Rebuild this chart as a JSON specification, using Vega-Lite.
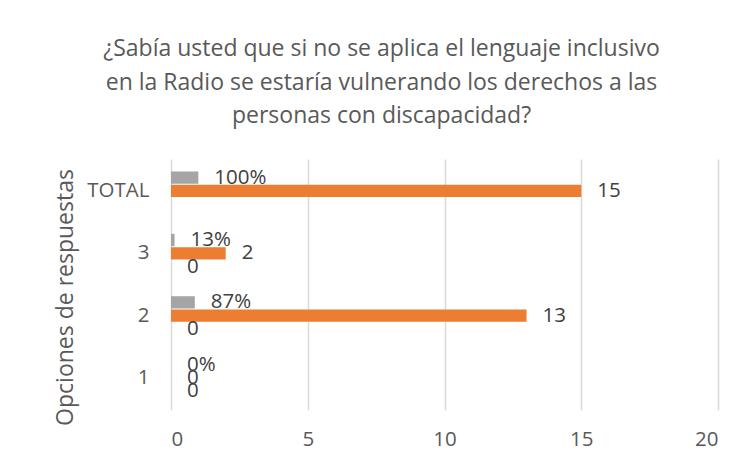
{
  "$schema": "https://vega.github.io/schema/vega-lite/v6.json",
  "width": 547,
  "height": 251,
  "autosize": {"type": "none"},
  "padding": {"left": 171, "top": 159, "right": 37, "bottom": 55},
  "background": "white",
  "config": {
    "view": {"stroke": null},
    "font": "Open Sans"
  },
  "title": {
    "text": [
      "¿Sabía usted que si no se aplica el lenguaje inclusivo",
      "en la Radio se estaría vulnerando los derechos a las",
      "personas con discapacidad?"
    ],
    "font": "Open Sans",
    "fontSize": 23,
    "fontWeight": "normal",
    "color": "#595959",
    "anchor": "middle",
    "dx": -63,
    "offset": 31,
    "lineHeight": 33.5
  },
  "data": {
    "values": [
      {"opcion": "TOTAL", "serie": "pct", "valor": 1.0, "etiqueta": "100%"},
      {"opcion": "TOTAL", "serie": "count", "valor": 15, "etiqueta": "15"},
      {"opcion": "3", "serie": "pct", "valor": 0.13, "etiqueta": "13%"},
      {"opcion": "3", "serie": "count", "valor": 2, "etiqueta": "2"},
      {"opcion": "3", "serie": "other", "valor": 0, "etiqueta": "0"},
      {"opcion": "2", "serie": "pct", "valor": 0.87, "etiqueta": "87%"},
      {"opcion": "2", "serie": "count", "valor": 13, "etiqueta": "13"},
      {"opcion": "2", "serie": "other", "valor": 0, "etiqueta": "0"},
      {"opcion": "1", "serie": "pct", "valor": 0, "etiqueta": "0%"},
      {"opcion": "1", "serie": "count", "valor": 0, "etiqueta": "0"},
      {"opcion": "1", "serie": "other", "valor": 0, "etiqueta": "0"}
    ]
  },
  "encoding": {
    "y": {
      "field": "opcion",
      "type": "nominal",
      "sort": ["TOTAL", "3", "2", "1"],
      "scale": {"paddingInner": 0.376, "paddingOuter": 0.2},
      "axis": {
        "title": "Opciones de respuestas",
        "titleFont": "Open Sans",
        "titleFontSize": 23,
        "titleFontWeight": "normal",
        "titleColor": "#595959",
        "titleBaseline": "middle",
        "titleX": -106,
        "titleY": 138,
        "labelFont": "Open Sans",
        "labelFontSize": 20.5,
        "labelColor": "#595959",
        "labelPadding": 22,
        "ticks": false,
        "domain": false,
        "grid": false
      }
    },
    "yOffset": {
      "field": "serie",
      "type": "nominal",
      "sort": ["pct", "count", "other"],
      "scale": {"domain": ["pct", "count", "other"], "paddingInner": 0.08, "paddingOuter": 0}
    },
    "x": {
      "field": "valor",
      "type": "quantitative",
      "scale": {"domain": [0, 20], "nice": false},
      "axis": {
        "title": null,
        "values": [0, 5, 10, 15, 20],
        "labelFont": "Open Sans",
        "labelFontSize": 20.5,
        "labelColor": "#595959",
        "labelPadding": 19,
        "ticks": false,
        "domain": false,
        "grid": true,
        "gridColor": "#d9d9d9",
        "gridWidth": 1.5
      }
    }
  },
  "layer": [
    {
      "mark": {"type": "bar"},
      "encoding": {
        "color": {
          "field": "serie",
          "type": "nominal",
          "scale": {"domain": ["pct", "count", "other"], "range": ["#A5A5A5", "#ED7D31", "#4472C4"]},
          "legend": null
        }
      }
    },
    {
      "mark": {"type": "text", "align": "left", "baseline": "middle", "dx": 16, "fontSize": 20.5, "font": "Open Sans", "color": "#404040"},
      "encoding": {
        "text": {"field": "etiqueta", "type": "nominal"}
      }
    }
  ]
}
